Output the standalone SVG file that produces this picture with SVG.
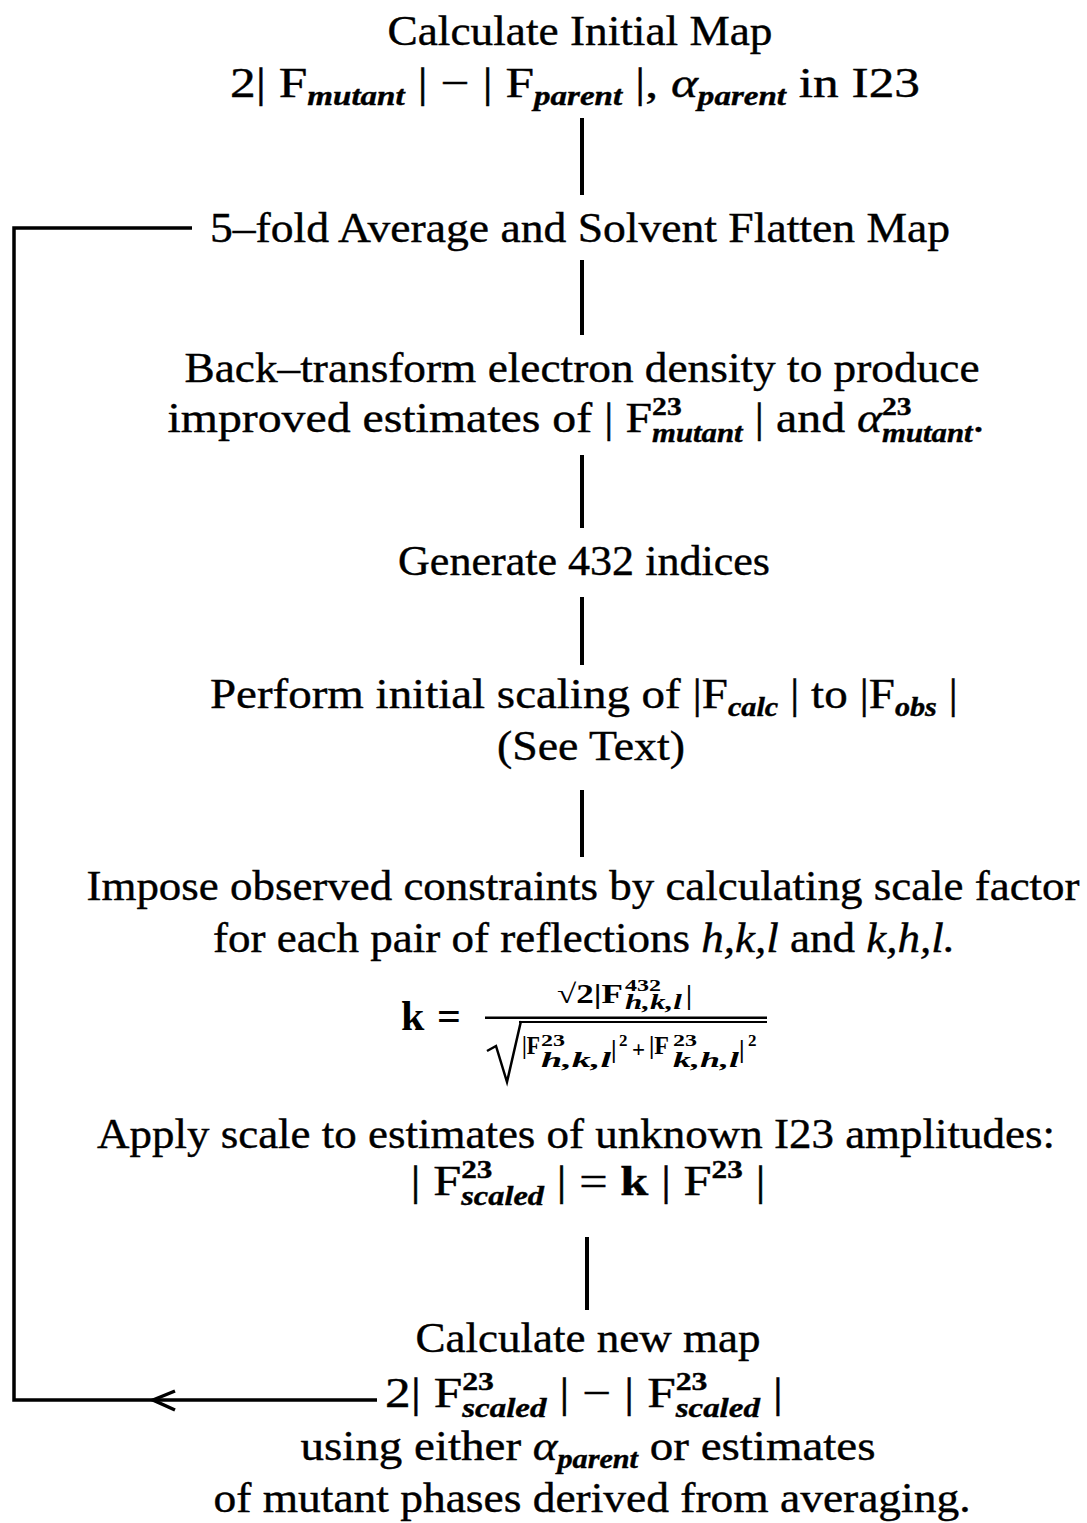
<svg xmlns="http://www.w3.org/2000/svg" width="1087" height="1523" viewBox="0 0 1087 1523">
<style>
.t { font-family: "Liberation Serif", "Times New Roman", serif; font-size: 42px; fill: #000; stroke: #000; stroke-width: 0.4; }
.i { font-style: italic; }
.sb { font-size: 27px; font-style: italic; font-weight: bold; }
.sp { font-size: 26px; font-weight: bold; }
.m { font-family: "Liberation Serif", "Times New Roman", serif; fill: #000; font-weight: bold; }
.conn { stroke: #000; stroke-width: 4; fill: none; }
.loop { stroke: #000; stroke-width: 3.5; fill: none; }
</style>
<rect width="1087" height="1523" fill="#fff"/>

<g id="connectors">
  <line class="conn" x1="582" y1="118" x2="582" y2="195"/>
  <line class="conn" x1="582" y1="260" x2="582" y2="335"/>
  <line class="conn" x1="582" y1="455" x2="582" y2="528"/>
  <line class="conn" x1="582" y1="597" x2="582" y2="665"/>
  <line class="conn" x1="582" y1="790" x2="582" y2="857"/>
  <line class="conn" x1="587" y1="1237" x2="587" y2="1310"/>
  <path class="loop" d="M377 1400 H14 V228 H192"/>
  <path class="loop" d="M175 1391 L153 1400 L175 1410" stroke-width="3"/>
</g>

<g id="node-initial-map">
  <text class="t" x="580" y="45" text-anchor="middle" textLength="385" lengthAdjust="spacingAndGlyphs">Calculate Initial Map</text>
  <text class="t" x="575" y="97" text-anchor="middle" textLength="690" lengthAdjust="spacingAndGlyphs">2| F<tspan class="sb" dy="8">mutant</tspan><tspan dy="-8"> | − | F</tspan><tspan class="sb" dy="8">parent</tspan><tspan dy="-8"> |, </tspan><tspan class="i">α</tspan><tspan class="sb" dy="8">parent</tspan><tspan dy="-8"> in I23</tspan></text>
</g>

<g id="node-average">
  <text class="t" x="580" y="242" text-anchor="middle" textLength="740" lengthAdjust="spacingAndGlyphs">5–fold Average and Solvent Flatten Map</text>
</g>

<g id="node-backtransform">
  <text class="t" x="582" y="382" text-anchor="middle" textLength="795" lengthAdjust="spacingAndGlyphs">Back–transform electron density to produce</text>
  <text class="t" x="576" y="432" text-anchor="middle" textLength="817" lengthAdjust="spacingAndGlyphs">improved estimates of | F<tspan class="sp" dy="-17">23</tspan><tspan class="sb" dx="-26" dy="27">mutant</tspan><tspan dy="-10"> | and </tspan><tspan class="i">α</tspan><tspan class="sp" dy="-17">23</tspan><tspan class="sb" dx="-26" dy="27">mutant</tspan><tspan dy="-10">.</tspan></text>
</g>

<g id="node-generate">
  <text class="t" x="584" y="575" text-anchor="middle" textLength="372" lengthAdjust="spacingAndGlyphs">Generate 432 indices</text>
</g>

<g id="node-initial-scaling">
  <text class="t" x="584" y="708" text-anchor="middle" textLength="748" lengthAdjust="spacingAndGlyphs">Perform initial scaling of |F<tspan class="sb" dy="8">calc</tspan><tspan dy="-8"> | to |F</tspan><tspan class="sb" dy="8">obs</tspan><tspan dy="-8"> |</tspan></text>
  <text class="t" x="591" y="760" text-anchor="middle" textLength="188" lengthAdjust="spacingAndGlyphs">(See Text)</text>
</g>

<g id="node-impose">
  <text class="t" x="583" y="900" text-anchor="middle" textLength="993" lengthAdjust="spacingAndGlyphs">Impose observed constraints by calculating scale factor</text>
  <text class="t" x="584" y="952" text-anchor="middle" textLength="742" lengthAdjust="spacingAndGlyphs">for each pair of reflections <tspan class="i">h,k,l</tspan> and <tspan class="i">k,h,l.</tspan></text>
  <g id="formula-k">
    <text class="m" x="401" y="1030" font-size="42">k</text>
    <text class="m" x="437" y="1030" font-size="42" font-weight="normal">=</text>
    <rect x="485" y="1016.5" width="282" height="2.5" fill="#000"/>
    <rect x="519" y="1021" width="248" height="2" fill="#000"/>
    <path d="M487 1051 L496 1046 L507 1082 L521 1021" stroke="#000" stroke-width="2.5" fill="none"/>
    <text class="m" x="557" y="1003" font-size="27" textLength="66" lengthAdjust="spacingAndGlyphs">√2|F</text>
    <text class="m" x="625" y="991" font-size="17" textLength="36" lengthAdjust="spacingAndGlyphs">432</text>
    <text class="m" x="625" y="1009" font-size="20" font-style="italic" textLength="57" lengthAdjust="spacingAndGlyphs">h,k,l</text>
    <text class="m" x="686" y="1004" font-size="27">|</text>
    <text class="m" x="522" y="1054" font-size="25" textLength="18" lengthAdjust="spacingAndGlyphs">|F</text>
    <text class="m" x="541" y="1046" font-size="17" textLength="24" lengthAdjust="spacingAndGlyphs">23</text>
    <text class="m" x="541" y="1067" font-size="20" font-style="italic" textLength="70" lengthAdjust="spacingAndGlyphs">h,k,l</text>
    <text class="m" x="611" y="1058" font-size="25">|</text>
    <text class="m" x="619" y="1046" font-size="17">2</text>
    <text class="m" x="632" y="1057" font-size="23">+</text>
    <text class="m" x="649" y="1054" font-size="25" textLength="20" lengthAdjust="spacingAndGlyphs">|F</text>
    <text class="m" x="673" y="1046" font-size="17" textLength="24" lengthAdjust="spacingAndGlyphs">23</text>
    <text class="m" x="673" y="1067" font-size="20" font-style="italic" textLength="66" lengthAdjust="spacingAndGlyphs">k,h,l</text>
    <text class="m" x="739" y="1058" font-size="25">|</text>
    <text class="m" x="748" y="1046" font-size="17">2</text>
  </g>
</g>

<g id="node-apply-scale">
  <text class="t" x="576" y="1148" text-anchor="middle" textLength="958" lengthAdjust="spacingAndGlyphs">Apply scale to estimates of unknown I23 amplitudes:</text>
  <text class="t" x="588" y="1195" text-anchor="middle" textLength="355" lengthAdjust="spacingAndGlyphs">| F<tspan class="sp" dy="-17">23</tspan><tspan class="sb" dx="-26" dy="27">scaled</tspan><tspan dy="-10"> | = </tspan><tspan font-weight="bold">k</tspan> | F<tspan class="sp" dy="-17">23</tspan><tspan dy="17"> |</tspan></text>
</g>

<g id="node-new-map">
  <text class="t" x="588" y="1352" text-anchor="middle" textLength="345" lengthAdjust="spacingAndGlyphs">Calculate new map</text>
  <text class="t" x="584" y="1407" text-anchor="middle" textLength="398" lengthAdjust="spacingAndGlyphs">2| F<tspan class="sp" dy="-17">23</tspan><tspan class="sb" dx="-26" dy="27">scaled</tspan><tspan dy="-10"> | − | F</tspan><tspan class="sp" dy="-17">23</tspan><tspan class="sb" dx="-26" dy="27">scaled</tspan><tspan dy="-10"> |</tspan></text>
  <text class="t" x="588" y="1460" text-anchor="middle" textLength="575" lengthAdjust="spacingAndGlyphs">using either <tspan class="i">α</tspan><tspan class="sb" dy="8">parent</tspan><tspan dy="-8"> or estimates</tspan></text>
  <text class="t" x="592" y="1512" text-anchor="middle" textLength="757" lengthAdjust="spacingAndGlyphs">of mutant phases derived from averaging.</text>
</g>
</svg>
